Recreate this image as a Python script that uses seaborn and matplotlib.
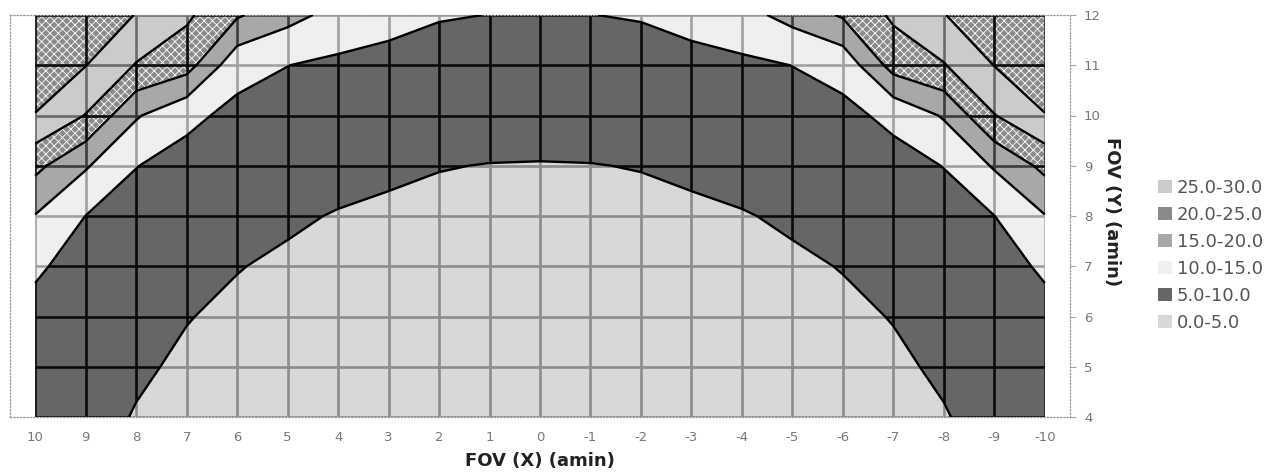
import numpy as np
import pandas as pd
import seaborn as sns
import matplotlib
matplotlib.use("Agg")
import matplotlib.pyplot as plt
from matplotlib.collections import LineCollection
from matplotlib.patches import Patch

# grid of the surface (FOV in arc-min)
fov_x = [10, 9, 8, 7, 6, 5, 4, 3, 2, 1, 0, -1, -2, -3, -4, -5, -6, -7, -8, -9, -10]
fov_y = [4, 5, 6, 7, 8, 9, 10, 11, 12]

# values, one row per FOV(Y), left (x=10) to right (x=-10)
row_y04 = [7.51, 6.09, 4.82, 4.07, 3.35, 2.66, 2.03, 1.47, 1.02, 0.72, 0.62, 0.72, 1.02, 1.47, 2.03, 2.66, 3.35, 4.07, 4.82, 6.09, 7.51]
row_y05 = [8.15, 6.78, 5.43, 4.53, 3.86, 3.23, 2.66, 2.18, 1.80, 1.56, 1.47, 1.56, 1.80, 2.18, 2.66, 3.23, 3.86, 4.53, 5.43, 6.78, 8.15]
row_y06 = [8.89, 7.59, 6.32, 5.11, 4.44, 3.86, 3.35, 2.93, 2.59, 2.39, 2.32, 2.39, 2.59, 2.93, 3.35, 3.86, 4.44, 5.11, 6.32, 7.59, 8.89]
row_y07 = [10.55, 8.49, 7.29, 6.16, 5.11, 4.53, 4.07, 3.70, 3.41, 3.23, 3.17, 3.23, 3.41, 3.70, 4.07, 4.53, 5.11, 6.16, 7.29, 8.49, 10.55]
row_y08 = [14.8, 9.95, 8.35, 7.29, 6.32, 5.43, 4.82, 4.48, 4.24, 4.07, 4.02, 4.07, 4.24, 4.48, 4.82, 5.43, 6.32, 7.29, 8.35, 9.95, 14.8]
row_y09 = [21.3, 15.5, 10.1, 8.49, 7.59, 6.78, 6.09, 5.53, 5.11, 4.92, 4.87, 4.92, 5.11, 5.53, 6.09, 6.78, 7.59, 8.49, 10.1, 15.5, 21.3]
row_y10 = [29.7, 24.8, 15.5, 11.0, 8.89, 8.15, 7.51, 7.0, 6.63, 6.40, 6.32, 6.40, 6.63, 7.0, 7.51, 8.15, 8.89, 11.0, 15.5, 24.8, 29.7]
row_y11 = [35.0, 30.1, 24.7, 22.0, 11.5, 10.05, 9.02, 8.49, 8.15, 7.95, 7.87, 7.95, 8.15, 8.49, 9.02, 10.05, 11.5, 22.0, 24.7, 30.1, 35.0]
row_y12 = [41.0, 36.0, 29.7, 25.8, 20.6, 16.6, 13.4, 11.6, 10.3, 9.95, 9.89, 9.95, 10.3, 11.6, 13.4, 16.6, 20.6, 25.8, 29.7, 36.0, 41.0]

band_levels = [0, 5, 10, 15, 20, 25, 30, 45]
band_labels = ["0.0-5.0", "5.0-10.0", "10.0-15.0", "15.0-20.0", "20.0-25.0", "25.0-30.0"]

band_fill = ["#d8d8d8", "#666666", "#efefef", "#a8a8a8", "#8a8a8a", "#cbcbcb", "#8a8a8a"]
band_hatch = [None, None, None, None, "xxxx", None, "xxxx"]
band_grid = ["#8c8c8c", "#0a0a0a", "#a0a0a0", "#3c3c3c", "#0a0a0a", "#6a6a6a", "#0a0a0a"]

sns.set_style("white")
plt.rcParams["font.family"] = ["DejaVu Sans"]
plt.rcParams["hatch.color"] = "#3a3a3a"
plt.rcParams["hatch.linewidth"] = 0.6

df = pd.DataFrame([row_y04, row_y05, row_y06, row_y07, row_y08, row_y09,
                   row_y10, row_y11, row_y12], index=fov_y, columns=fov_x)
X, Y = np.meshgrid(df.columns.values, df.index.values)
Z = df.values

fig = plt.figure(figsize=(12.87, 4.74), dpi=100)
ax = fig.add_axes([10 / 1287, 1 - 417 / 474, 1060 / 1287, 402 / 474])

cf = ax.contourf(X, Y, Z, levels=band_levels, colors=band_fill, hatches=band_hatch, zorder=1)
ax.contour(X, Y, Z, levels=band_levels[1:-1], colors="black", linewidths=1.7, zorder=3)

# grid lines take a darker shade of whatever band they run through
segs = [[(xv, fov_y[0]), (xv, fov_y[-1])] for xv in fov_x]
segs += [[(fov_x[0], yv), (fov_x[-1], yv)] for yv in fov_y]
for path, gcol in zip(cf.get_paths(), band_grid):
    lc = LineCollection(segs, colors=gcol, linewidths=1.9, zorder=2)
    ax.add_collection(lc)
    lc.set_clip_path(path, ax.transData)

ax.set_xlim(10.5, -10.5)
ax.set_ylim(4, 12)

ax.set_xticks(fov_x)
ax.set_xticklabels([str(v) for v in fov_x])
ax.set_xticks(np.arange(-10.5, 11, 1), minor=True)
ax.tick_params(axis="x", which="major", length=0, pad=10, labelsize=9.5, labelcolor="#777777")
ax.tick_params(axis="x", which="minor", length=4, width=0.8, color="#aaaaaa", direction="out")

ax.yaxis.tick_right()
ax.set_yticks(fov_y)
ax.set_yticklabels([str(v) for v in fov_y])
ax.tick_params(axis="y", which="major", length=4, width=0.8, color="#aaaaaa", direction="out",
               pad=6, labelsize=9.5, labelcolor="#777777")

for sp in ax.spines.values():
    sp.set_visible(True)
    sp.set_linestyle(":")
    sp.set_linewidth(0.9)
    sp.set_color("#999999")

fig.text(540 / 1287, 1 - 461 / 474, "FOV (X) (amin)", ha="center", va="center",
         fontsize=13, fontweight="bold", color="#222222")
fig.text(1112 / 1287, 1 - 212 / 474, "FOV (Y) (amin)", ha="center", va="center",
         rotation=-90, fontsize=13, fontweight="bold", color="#222222")

handles = [Patch(facecolor=band_fill[i], edgecolor="none", hatch=band_hatch[i])
           for i in range(len(band_labels))][::-1]
fig.legend(handles, band_labels[::-1], loc="upper left",
           bbox_to_anchor=(1158 / 1287, 1 - 179 / 474), frameon=False, fontsize=13,
           handlelength=0.75, handleheight=0.75, handletextpad=0.3, labelspacing=0.5,
           borderpad=0, borderaxespad=0, labelcolor="#555555")

fig.savefig("out.png", dpi=100)
